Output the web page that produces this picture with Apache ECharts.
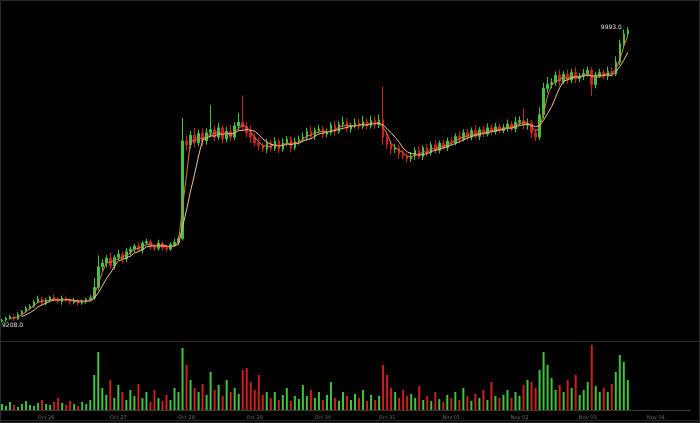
<!DOCTYPE html>
<html>
<head>
<meta charset="utf-8">
<script src="https://cdn.jsdelivr.net/npm/echarts@6/dist/echarts.min.js"></script>
<style>html,body{margin:0;padding:0;background:#000;}#c{width:700px;height:423px;}</style>
</head>
<body>
<div id="c"></div>
<script>
// ---- data ----
var firstOpen = 9210;
var closes = [
 9213,9218,9222,9216,9228,
 9236,9245,9250,
 9262,9270,9258,9266,9274,9268,9262,9272,9266,9260,9265,9258,9262,9268,9272,
 9300,9355,
 9365,9378,9358,9380,9388,9376,9395,9402,
 9410,9400,9418,9422,9408,9404,9418,9406,9402,9414,9420,
 9430,
 9690,
 9680,9705,9685,9710,9690,9712,
 9720,
 9700,9725,9695,9715,9700,9730,9740,
 9728,
 9712,9700,9685,9678,9668,9685,
 9670,9690,9668,9685,9695,9672,9688,9695,
 9700,9715,9702,9718,9722,9708,
 9712,9732,9715,9735,9740,9722,9730,9738,
 9728,9742,9730,9745,9732,9746,
 9700,
 9680,9668,9672,9655,9650,9642,
 9650,9665,9648,9672,9658,9680,9665,9684,9672,9690,
 9685,9702,9695,9712,9700,9718,9702,9720,9708,9725,9715,9728,9718,
 9725,9735,9722,9740,9745,9732,9738,
 9712,9700,
 9760,9830,9840,
 9845,9865,9848,9868,9852,9872,9856,9862,9870,9878,9840,9866,9872,
 9862,9876,9868,
 9900,9950,9975,9985
];
var wickUp = [
 3,4,5,3,6,4,5,6,4,8,5,6,4,7,5,6,4,5,7,4,6,5,8,
 25,30,
 10,8,15,6,12,8,10,7,
 6,10,5,8,6,7,9,5,8,6,10,
 8,
 61,
 15,12,20,10,14,12,
 65,
 10,14,8,12,18,10,25,
 71,
 12,20,10,15,8,10,
 8,10,6,12,8,7,10,9,
 12,10,15,8,10,7,
 10,8,12,7,15,10,8,12,
 10,14,8,12,10,15,
 89,
 15,12,10,8,12,6,
 10,8,12,6,10,8,12,7,10,9,
 10,8,12,9,10,8,14,7,10,12,9,10,8,
 10,12,8,14,10,32,12,
 8,10,
 20,15,20,
 12,10,15,8,12,10,14,9,12,10,8,8,10,
 8,12,10,
 15,10,12,8
];
var wickDn = [
 2,5,4,6,3,5,4,6,5,4,7,5,6,4,5,8,4,6,5,7,4,6,5,
 5,8,
 10,12,8,10,7,12,8,10,
 8,6,10,5,8,7,6,9,8,5,6,
 6,
 5,
 14,10,12,8,15,10,
 12,
 10,8,12,9,10,8,12,
 10,
 12,15,10,12,8,10,
 8,6,10,7,8,12,6,8,
 8,10,7,9,8,10,
 8,7,10,6,9,8,10,7,
 8,6,10,7,9,8,
 20,
 12,15,10,12,8,10,
 8,10,6,9,8,7,10,8,6,9,
 8,7,10,6,9,8,7,10,8,6,9,8,7,
 8,10,7,9,8,10,12,
 15,10,
 8,10,12,
 10,8,12,7,10,8,12,9,10,8,30,10,8,
 8,10,7,
 5,8,10,6
];
var volumes = [
 6,4,8,5,3,6,9,5,4,7,10,6,5,8,12,7,5,9,6,4,8,6,10,
 35,58,
 22,15,30,12,25,18,10,20,
 14,26,12,18,8,20,12,9,15,10,22,
 18,
 62,
 45,30,22,18,26,15,
 38,
 20,25,14,30,18,22,16,
 40,
 42,28,20,35,15,18,
 12,18,10,15,22,9,14,11,
 25,14,20,12,18,10,
 15,28,12,9,18,14,10,16,
 12,20,9,15,10,14,
 45,
 35,22,18,12,20,14,
 16,12,24,10,14,9,18,11,8,15,
 12,18,10,22,14,9,16,12,20,10,28,14,12,
 15,20,12,18,14,25,30,
 28,22,
 40,58,45,
 32,20,25,18,30,22,35,15,20,28,65,24,18,
 22,18,26,
 38,55,48,30
];
var tickLabels = ['Oct 26','Oct 27','Oct 28','Oct 29','Oct 30','Oct 31','Nov 01','Nov 02','Nov 03','Nov 04'];
var tickIdx = [11,29,46,63,80,96,112,129,146,163];
var totalSlots = 172;
var fastPeriod = 3, slowPeriod = 6;

// ---- build series ----
var n = closes.length;
var cats = [];
for (var i = 0; i < totalSlots; i++) cats.push(String(i));
var ohlc = [], vol = [], highs = [], lows = [];
for (var i = 0; i < n; i++) {
  var o = i === 0 ? firstOpen : closes[i - 1];
  var c = closes[i];
  var h = Math.max(o, c) + wickUp[i];
  var l = Math.min(o, c) - wickDn[i];
  highs.push(h); lows.push(l);
  ohlc.push([o, c, l, h]);
  vol.push({value: volumes[i], itemStyle: {color: c >= o ? '#3ec43e' : '#cc2020'}});
}
function ma(p) {
  var r = [];
  for (var i = 0; i < n; i++) {
    if (i < p - 1) { r.push('-'); continue; }
    var s = 0;
    for (var j = 0; j < p; j++) s += closes[i - j];
    r.push(+(s / p).toFixed(2));
  }
  return r;
}
var maxH = Math.max.apply(null, highs), maxI = highs.indexOf(maxH);
var minL = Math.min.apply(null, lows), minI = lows.indexOf(minL);

var chart = echarts.init(document.getElementById('c'), null, {renderer: 'canvas'});
chart.setOption({
  backgroundColor: '#000',
  animation: false,
  grid: [
    {left: 0, right: 10, top: 5, height: 335},
    {left: 0, right: 10, top: 342, height: 68}
  ],
  xAxis: [
    {type: 'category', data: cats, gridIndex: 0, boundaryGap: true,
     axisLine: {show: false}, axisTick: {show: false}, axisLabel: {show: false}, splitLine: {show: false}},
    {type: 'category', data: cats, gridIndex: 1, boundaryGap: true,
     axisLine: {show: true, lineStyle: {color: '#3a3a3a', width: 1}},
     axisTick: {show: false}, splitLine: {show: false},
     axisLabel: {
       interval: function (idx) { return tickIdx.indexOf(idx) >= 0; },
       formatter: function (v, idx) { var k = tickIdx.indexOf(idx); return k >= 0 ? tickLabels[k] : ''; },
       color: '#6a6a6a', fontSize: 5, margin: 5, fontFamily: 'DejaVu Sans'
     }}
  ],
  yAxis: [
    {type: 'value', gridIndex: 0, min: 9160, max: 10052, show: false, splitLine: {show: false}},
    {type: 'value', gridIndex: 1, min: 0, max: 68, show: false, splitLine: {show: false}}
  ],
  series: [
    {type: 'candlestick', xAxisIndex: 0, yAxisIndex: 0, data: ohlc, barWidth: 2,
     itemStyle: {color: '#3ec43e', color0: '#cc2020', borderColor: '#3ec43e', borderColor0: '#cc2020', borderWidth: 1},
     markPoint: {
       symbol: 'circle', symbolSize: 0, silent: true,
       label: {color: '#e0e0e0', fontSize: 6, fontFamily: 'DejaVu Sans'},
       data: [
         {coord: [maxI, maxH], value: maxH, label: {position: 'left', distance: 6, formatter: maxH.toFixed(1)}},
         {coord: [minI, minL], value: minL, label: {position: 'right', distance: 0, offset: [0, 3], formatter: minL.toFixed(1)}}
       ]
     }},
    {type: 'line', xAxisIndex: 0, yAxisIndex: 0, data: ma(slowPeriod), symbol: 'none', smooth: false,
     lineStyle: {color: '#e8c49a', width: 1}},
    {type: 'line', xAxisIndex: 0, yAxisIndex: 0, data: ma(fastPeriod), symbol: 'none', smooth: false,
     lineStyle: {color: '#e0783c', width: 1}},
    {type: 'bar', xAxisIndex: 1, yAxisIndex: 1, data: vol, barWidth: 2}
  ],
  graphic: [
    {type: 'rect', shape: {x: 0.5, y: 0.5, width: 699, height: 422}, style: {fill: 'none', stroke: '#2a2a2a', lineWidth: 1}, silent: true},
    {type: 'line', shape: {x1: 0, y1: 341.5, x2: 700, y2: 341.5}, style: {stroke: '#2e2e2e', lineWidth: 1}, silent: true},
    {type: 'line', shape: {x1: 0, y1: 420.5, x2: 700, y2: 420.5}, style: {stroke: '#2e2e2e', lineWidth: 1}, silent: true}
  ]
});
</script>
</body>
</html>
